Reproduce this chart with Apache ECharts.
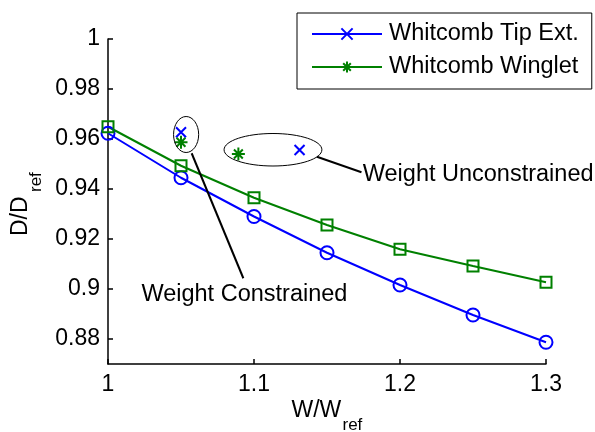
<!DOCTYPE html>
<html>
<head>
<meta charset="utf-8">
<script src="https://cdn.jsdelivr.net/npm/echarts@6/dist/echarts.min.js"></script>
<style>
  html, body { margin: 0; padding: 0; background: #ffffff; }
  #chart { width: 595px; height: 432px; }
</style>
</head>
<body>
<div id="chart"></div>
<script>
// Drag ratio D/Dref against weight ratio W/Wref
const weightRatio = [1, 1.05, 1.1, 1.15, 1.2, 1.25, 1.3];
const tipExtCurve = [0.9623, 0.9445, 0.9290, 0.9145, 0.9016, 0.8896, 0.8787];
const wingletCurve = [0.9649, 0.9493, 0.9365, 0.9256, 0.9159, 0.9092, 0.9027];

// Optimised single designs: [W/Wref, D/Dref]  (constrained, unconstrained)
const tipExtPoints = [[1.05, 0.9627], [1.1312, 0.9556]];
const wingletPoints = [[1.05, 0.9587], [1.0893, 0.9540]];

const yTickValues = [0.88, 0.9, 0.92, 0.94, 0.96, 0.98, 1];
const legendNames = ['Whitcomb Tip Ext.', 'Whitcomb Winglet'];
const annotationLabels = ['Weight Constrained', 'Weight Unconstrained'];
const xTitle = ['W/W', 'ref'];
const yTitle = ['D/D', 'ref'];

const BLUE = '#0000ff';
const GREEN = '#008000';
const FONT = "'Liberation Sans', Arial, Helvetica, sans-serif";

const crossSymbol = 'path://M0,0L10,10M0,10L10,0';
const starSymbol = 'path://M5,0L5,10M0,5L10,5M1.6,1.6L8.4,8.4M1.6,8.4L8.4,1.6';

const fmt = v => String(+(+v).toFixed(2));

const chart = echarts.init(document.getElementById('chart'), null, { renderer: 'canvas' });

const axisCommon = {
  type: 'value',
  axisLine: { show: true, onZero: false, lineStyle: { color: '#000', width: 1.5 } },
  axisTick: { show: true, inside: true, length: 5, lineStyle: { color: '#000', width: 1.5 } },
  splitLine: { show: false },
  axisLabel: {
    color: '#000', fontSize: 23, fontFamily: FONT,
    showMinLabel: true, showMaxLabel: true, hideOverlap: false, formatter: fmt
  }
};

chart.setOption({
  animation: false,
  backgroundColor: '#ffffff',
  textStyle: { fontFamily: FONT },
  grid: { left: 108, right: 49, top: 39, bottom: 68, containLabel: false, outerBoundsMode: 'none' },
  xAxis: Object.assign({}, axisCommon, {
    min: 1, max: 1.3, interval: 0.1,
    axisLabel: Object.assign({}, axisCommon.axisLabel, { margin: 9 })
  }),
  yAxis: Object.assign({}, axisCommon, {
    min: 0.87, max: 1,
    axisTick: Object.assign({}, axisCommon.axisTick, { customValues: yTickValues }),
    axisLabel: Object.assign({}, axisCommon.axisLabel, { margin: 8, customValues: yTickValues })
  }),
  legend: {
    orient: 'vertical',
    left: 297, top: 13,
    padding: [9, 13, 10, 14],
    itemGap: 9,
    itemWidth: 70, itemHeight: 14,
    borderColor: '#000', borderWidth: 1,
    backgroundColor: '#fff',
    selectedMode: false,
    lineStyle: { width: 2 },
    textStyle: { color: '#000', fontSize: 23.5, fontFamily: FONT, padding: [0, 0, 0, 2] },
    data: legendNames.map(n => ({ name: n }))
  },
  series: [
    {
      name: 'tipExtCurve', type: 'line',
      data: weightRatio.map((x, i) => [x, tipExtCurve[i]]),
      symbol: 'circle', symbolSize: 13,
      itemStyle: { color: 'rgba(0,0,0,0)', borderColor: BLUE, borderWidth: 2 },
      lineStyle: { color: BLUE, width: 2 },
      emphasis: { disabled: true }, z: 2
    },
    {
      name: 'wingletCurve', type: 'line',
      data: weightRatio.map((x, i) => [x, wingletCurve[i]]),
      symbol: 'rect', symbolSize: 11,
      itemStyle: { color: 'rgba(0,0,0,0)', borderColor: GREEN, borderWidth: 2 },
      lineStyle: { color: GREEN, width: 2 },
      emphasis: { disabled: true }, z: 2
    },
    {
      name: legendNames[0], type: 'line',
      data: tipExtPoints,
      symbol: crossSymbol, symbolSize: 10,
      itemStyle: { color: BLUE, borderColor: BLUE, borderWidth: 2 },
      lineStyle: { color: BLUE, width: 0 },
      emphasis: { disabled: true }, z: 3
    },
    {
      name: legendNames[1], type: 'line',
      data: wingletPoints,
      symbol: starSymbol, symbolSize: 13,
      itemStyle: { color: GREEN, borderColor: GREEN, borderWidth: 2 },
      lineStyle: { color: GREEN, width: 0 },
      emphasis: { disabled: true }, z: 3
    }
  ]
});

// Annotations placed in data coordinates
const px = p => chart.convertToPixel({ gridIndex: 0 }, p);
const unitX = px([1.1, 0.9])[0] - px([1, 0.9])[0];   // pixels per 0.1 of W/Wref
const unitY = px([1, 0.9])[1] - px([1, 0.92])[1];    // pixels per 0.02 of D/Dref

function ellipse(center, rxData, ryData) {
  const c = px(center);
  return {
    type: 'ellipse', z: 10,
    shape: { cx: c[0], cy: c[1], rx: rxData / 0.1 * unitX, ry: ryData / 0.02 * unitY },
    style: { fill: 'none', stroke: '#000', lineWidth: 1 }
  };
}
function leader(a, b) {
  const p1 = px(a), p2 = px(b);
  return {
    type: 'line', z: 10,
    shape: { x1: p1[0], y1: p1[1], x2: p2[0], y2: p2[1] },
    style: { stroke: '#000', lineWidth: 2 }
  };
}
function label(text, at, size) {
  const p = px(at);
  return {
    type: 'text', z: 10, x: p[0], y: p[1],
    style: { text: text, fill: '#000', font: size + 'px ' + FONT, align: 'left', verticalAlign: 'middle' }
  };
}

chart.setOption({
  graphic: [
    ellipse([1.0535, 0.9618], 0.0086, 0.0072),
    ellipse([1.1130, 0.9557], 0.0335, 0.0065),
    leader([1.0573, 0.9543], [1.0927, 0.9043]),
    leader([1.1431, 0.9529], [1.1736, 0.9467]),
    label(annotationLabels[0], [1.0229, 0.8979], 23.5),
    label(annotationLabels[1], [1.1745, 0.9459], 23.5),
    // axis titles with subscripts
    { type: 'text', z: 10, x: 291.5, y: 411,
      style: { text: xTitle[0], fill: '#000', font: '23px ' + FONT, align: 'left', verticalAlign: 'middle' } },
    { type: 'text', z: 10, x: 342.5, y: 425,
      style: { text: xTitle[1], fill: '#000', font: '17px ' + FONT, align: 'left', verticalAlign: 'middle' } },
    { type: 'text', z: 10, x: 21, y: 236, rotation: Math.PI / 2,
      style: { text: yTitle[0], fill: '#000', font: '23px ' + FONT, align: 'left', verticalAlign: 'middle' } },
    { type: 'text', z: 10, x: 36, y: 192, rotation: Math.PI / 2,
      style: { text: yTitle[1], fill: '#000', font: '17px ' + FONT, align: 'left', verticalAlign: 'middle' } }
  ]
});
</script>
</body>
</html>
